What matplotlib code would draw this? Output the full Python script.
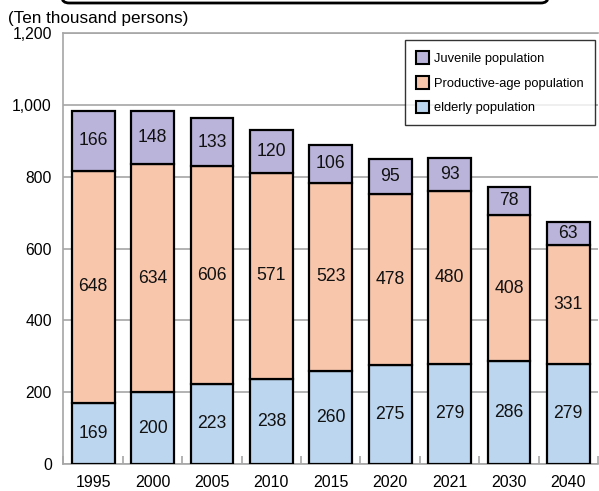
import matplotlib
matplotlib.use("Agg")
import matplotlib.pyplot as plt
from matplotlib.patches import FancyBboxPatch, Patch
import numpy as np

plt.rcParams['font.family'] = ['Liberation Sans', 'DejaVu Sans']

years = ["1995", "2000", "2005", "2010", "2015", "2020", "2021", "2030", "2040"]
elderly = [169, 200, 223, 238, 260, 275, 279, 286, 279]
productive = [648, 634, 606, 571, 523, 478, 480, 408, 331]
juvenile = [166, 148, 133, 120, 106, 95, 93, 78, 63]

series_names = ["Juvenile population", "Productive-age population", "elderly population"]
c_juv = "#bab4da"
c_prod = "#f8c6ab"
c_eld = "#bdd6ef"

W, H = 599, 491
fig = plt.figure(figsize=(W / 100, H / 100), dpi=100)
ax = fig.add_axes([63 / W, 27 / H, (598 - 63) / W, 431 / H])

x = np.arange(len(years))
bw = 0.72
kw = dict(width=bw, edgecolor="black", linewidth=1.6, zorder=3)
eld = np.array(elderly)
prod = np.array(productive)
juv = np.array(juvenile)
ax.bar(x, eld, color=c_eld, **kw)
ax.bar(x, prod, bottom=eld, color=c_prod, **kw)
ax.bar(x, juv, bottom=eld + prod, color=c_juv, **kw)

lbl = dict(ha="center", va="center", fontsize=12.7, color="#111111", zorder=4)
for i in range(len(years)):
    ax.text(x[i], eld[i] / 2, str(eld[i]), **lbl)
    ax.text(x[i], eld[i] + prod[i] / 2, str(prod[i]), **lbl)
    ax.text(x[i], eld[i] + prod[i] + juv[i] / 2, str(juv[i]), **lbl)

ax.set_ylim(0, 1200)
ax.set_xlim(-0.508, 8.41)
ax.set_yticks(range(0, 1201, 200))
ax.set_yticklabels([f"{v:,}" for v in range(0, 1201, 200)])
ax.yaxis.grid(True, color="#a6a6a6", linewidth=1.2, zorder=0)
ax.set_axisbelow(True)
for s in ax.spines.values():
    s.set_color("#a6a6a6")
    s.set_linewidth(1.2)
ax.spines["right"].set_visible(False)

ax.set_xticks(x)
ax.set_xticklabels(years)
ax.set_xticks(np.arange(-0.5, 8.6, 1), minor=True)
ax.tick_params(axis="x", which="major", length=0, pad=8, labelsize=11.5)
ax.tick_params(axis="x", which="minor", direction="in", length=6, color="#a6a6a6", width=1.2)
ax.tick_params(axis="y", length=0, pad=8, labelsize=11.3)

handles = [Patch(facecolor=c, edgecolor="black", linewidth=1.5) for c in (c_juv, c_prod, c_eld)]
leg = ax.legend(handles, series_names, loc="upper right",
                bbox_to_anchor=(595 / W, 1 - 40 / H), bbox_transform=fig.transFigure,
                fontsize=9.3, frameon=True, fancybox=False, edgecolor="black",
                handlelength=1.0, handleheight=1.15, handletextpad=0.45,
                labelspacing=0.85, borderpad=0.85, borderaxespad=0)
leg.get_frame().set_linewidth(1.0)
leg.set_zorder(5)

fig.text(8 / W, 1 - 19 / H, "(Ten thousand persons)", fontsize=12.3, ha="left", va="center")

box = FancyBboxPatch((62 / W, 1 - 3 / H), (548 - 62) / W, 0.1,
                     boxstyle="round,pad=0,rounding_size=0.012",
                     transform=fig.transFigure, facecolor="white",
                     edgecolor="black", linewidth=2, clip_on=False)
fig.patches.append(box)

fig.savefig("out.png", dpi=100)
